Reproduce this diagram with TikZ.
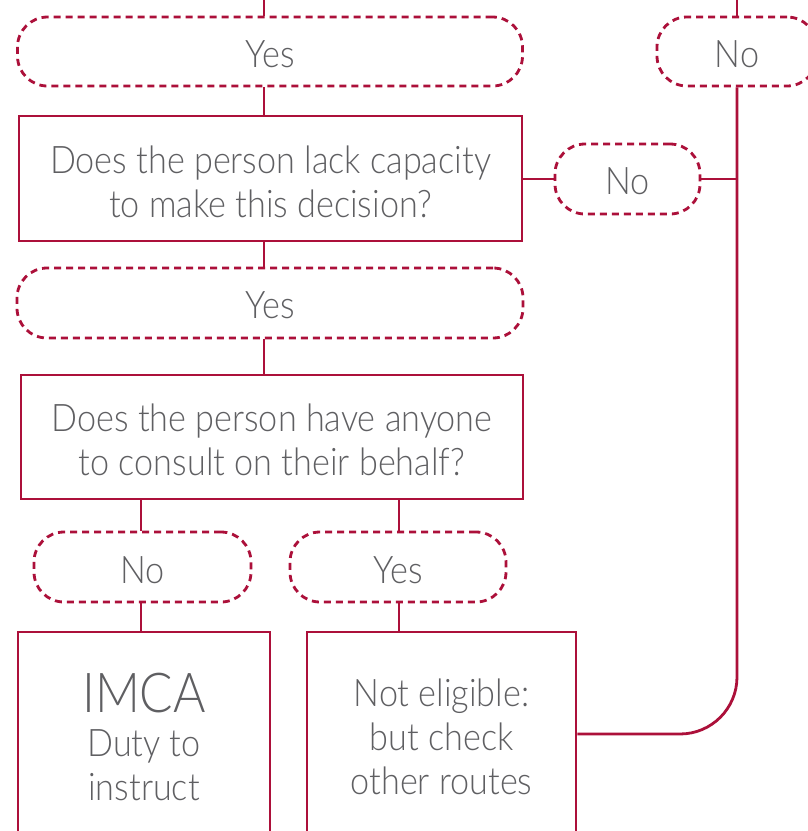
\documentclass[tikz,border=0pt]{standalone}
\usepackage{fontspec}
\setmainfont{Lato}[UprightFont=* Light, FakeStretch=0.9]
\usetikzlibrary{arrows.meta}
\definecolor{crim}{RGB}{172,16,58}
\definecolor{txt}{RGB}{95,95,98}
\tikzset{
  every node/.style={font=\fontsize{38}{44}\selectfont, text=txt, align=center, inner sep=0pt},
  pill/.style={draw=crim, line width=2.8pt, dash pattern=on 7pt off 5pt, rounded corners=30pt},
  qbox/.style={draw=crim, line width=2.8pt},
  link/.style={draw=crim, line width=2.8pt},
}
\begin{document}
\begin{tikzpicture}[x=1pt,y=-1pt]
\useasboundingbox (0,0) rectangle (808,831);
\fill[white] (0,0) rectangle (808,831);
% nodes
\node[pill, minimum width=505pt, minimum height=69pt, label={[yshift=-2.5pt]center:Yes}] (yes1) at (270,51.5) {};
\node[pill, minimum width=160pt, minimum height=69pt, label={[yshift=-2.5pt]center:No}] (notop) at (737,51.5) {};
\node[qbox, minimum width=503pt, minimum height=125pt, label={[yshift=-3pt]center:{Does the person lack capacity\\to make this decision?}}] (box1) at (270.5,178.5) {};
\node[pill, minimum width=145pt, minimum height=70pt, label={[yshift=-2.5pt]center:No}] (no2) at (627.5,179) {};
\node[pill, minimum width=506pt, minimum height=70pt, label={[yshift=-2.5pt]center:Yes}] (yes2) at (270,303) {};
\node[qbox, minimum width=502pt, minimum height=124pt, label={[yshift=-3pt]center:{Does the person have anyone\\to consult on their behalf?}}] (box2) at (272,437) {};
\node[pill, minimum width=217pt, minimum height=70pt, label={[yshift=-3pt]center:No}] (no3) at (142.5,567) {};
\node[pill, minimum width=216pt, minimum height=70pt, label={[yshift=-3pt]center:Yes}] (yes3) at (398,567) {};
\node[qbox, minimum width=252pt, minimum height=206pt, label={[yshift=-2pt]center:{{\fontsize{55}{53}\selectfont IMCA}\\Duty to\\instruct}}] (imca) at (144,735) {};
\node[qbox, minimum width=269pt, minimum height=210pt, label={center:{Not eligible:\\but check\\other routes}}] (ne) at (441.5,737) {};
% helper coordinates
\coordinate (c1) at (264,0);
\coordinate (c2) at (737,0);
\coordinate (c3) at (141,0);
\coordinate (c4) at (399,0);
\coordinate (corner) at (737,734);
% connectors
\draw[link] (c1) -- (yes1.north -| c1);
\draw[link] (c2) -- (notop.north -| c2);
\draw[link] (yes1.south -| c1) -- (box1.north -| c1);
\draw[link] (no2.west -| box1.east) -- (no2.west);
\draw[link] (no2.east) -- (no2.east -| c2);
\draw[link] (box1.south -| c1) -- (yes2.north -| c1);
\draw[link] (yes2.south -| c1) -- (box2.north -| c1);
\draw[link] (box2.south -| c3) -- (no3.north -| c3);
\draw[link] (box2.south -| c4) -- (yes3.north -| c4);
\draw[link] (no3.south -| c3) -- (imca.north -| c3);
\draw[link] (yes3.south -| c4) -- (ne.north -| c4);
\draw[link, rounded corners=57pt] (notop.south -| c2) -- (corner) -- (corner -| ne.east);
\end{tikzpicture}
\end{document}
